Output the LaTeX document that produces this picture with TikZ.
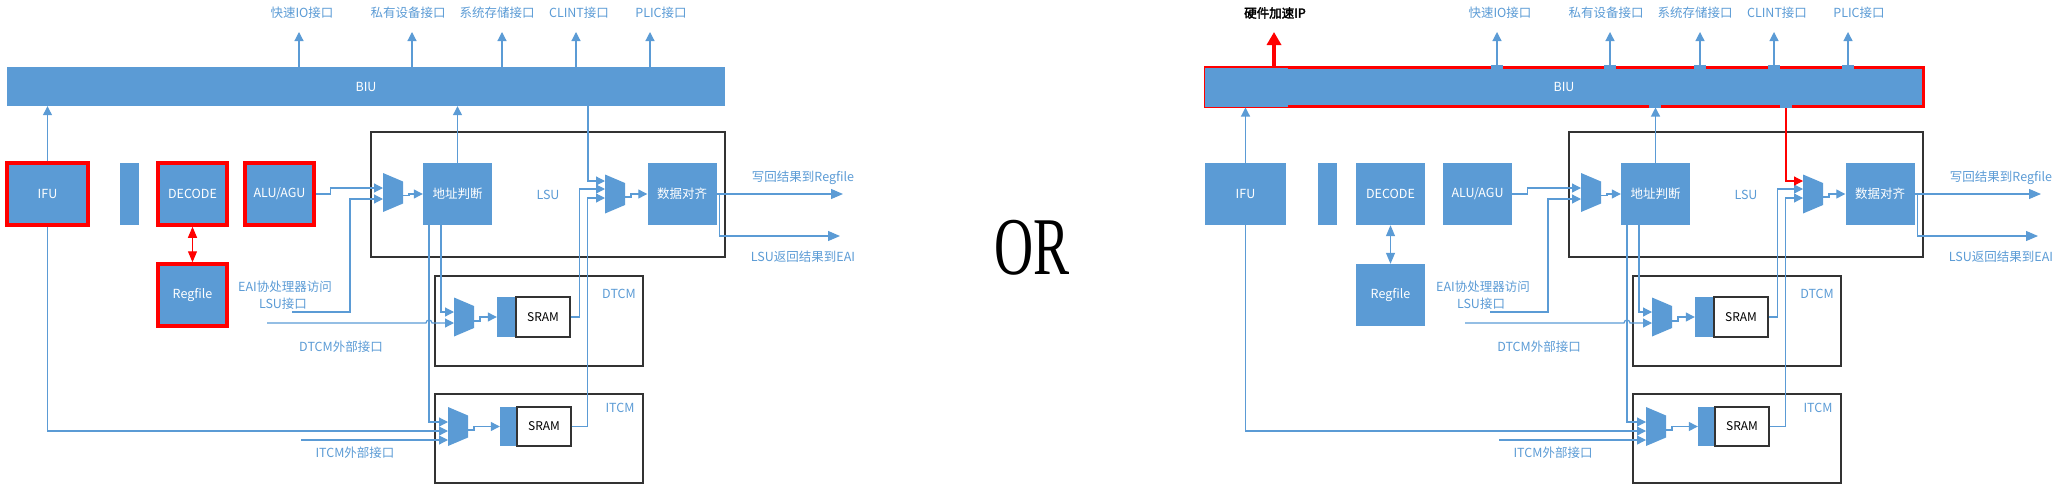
\documentclass[tikz,border=0pt]{standalone}
\usepackage{fontspec}
\setmainfont{Noto Sans CJK SC}
\newfontfamily\hwfont[FakeBold=2.5]{Noto Sans CJK SC}
\newfontfamily\orfont{Liberation Serif}
\usetikzlibrary{arrows.meta,calc}
\definecolor{ipblue}{RGB}{91,155,213}
\tikzset{
  unit/.style={fill=ipblue, text=white, inner sep=0pt, minimum width=69pt,
              minimum height=62pt, font=\fontsize{12.5}{14}\selectfont},
  cpubox/.style={unit},
  biubox/.style={unit, minimum width=718pt, minimum height=39pt},
  unitframe/.style={draw=black!80, line width=1.5pt, inner sep=0pt, text=ipblue,
              font=\fontsize{12.5}{14}\selectfont},
  sram/.style={draw=black!80, line width=1.2pt, fill=white, inner sep=0pt,
              minimum width=54pt, minimum height=40pt, font=\fontsize{12}{14}\selectfont},
  buf/.style={fill=ipblue, inner sep=0pt, minimum width=19pt, minimum height=40pt},
  muxpic/.pic={\fill[ipblue] (-10,-19.5) -- (10,-11) -- (10,11) -- (-10,19.5) -- cycle;},
  lbl/.style={text=ipblue, inner sep=0pt, font=\fontsize{12.5}{14}\selectfont},
  flow/.style={-{Triangle[length=9pt,width=9pt]}, ipblue, line width=1.2pt},
  outflow/.style={-{Triangle[length=12pt,width=10pt]}, ipblue, line width=1.2pt},
  busline/.style={flow},
  regarrow/.style={{Triangle[length=11pt,width=9pt]}-{Triangle[length=11pt,width=9pt]},
              ipblue, line width=1.2pt},
  hwflow/.style={-{Triangle[length=13pt,width=14pt]}, red, line width=4pt},
}
% one copy of the core: bus, pipeline units, LSU and the two TCMs
\newcommand\coreunits{%
  \node[biubox] (biu) at (366,86.5) {BIU};
  \foreach \px/\lx/\txt [count=\i] in {299/302/快速IO接口,412/408/私有设备接口,
      502/497/系统存储接口,576/579/CLINT接口,650/661/PLIC接口}{
    \coordinate (port\i) at (\px,32);
    \node[lbl] (portlbl\i) at (\lx,13) {\txt};
    \draw[flow] (biu.north -| port\i) -- (port\i);
  }
  \node[unitframe, minimum width=354pt, minimum height=125pt] (lsu) at (548,194.5) {LSU};
  \node[unitframe, minimum width=208pt, minimum height=90pt] (dtcm) at (539,321) {};
  \node[unitframe, minimum width=208pt, minimum height=89pt] (itcm) at (539,438.5) {};
  \node[lbl] (dtcmlbl) at (619,294) {DTCM};
  \node[lbl] (itcmlbl) at (620,408) {ITCM};
  \node[cpubox, minimum width=81pt] (ifu) at (47.5,194) {IFU};
  \node[unit, minimum width=19pt] (pipe) at (129.5,194) {};
  \node[cpubox] (dec) at (192.5,194) {DECODE};
  \node[cpubox] (alu) at (279.5,194) {ALU/AGU};
  \node[cpubox] (rf) at (192.5,295) {Regfile};
  \node[unit] (addr) at (457.5,194) {地址判断};
  \node[unit] (align) at (682,194) {数据对齐};
  \coordinate (m1) at (393,192.5);  \pic at (m1) {muxpic};
  \coordinate (m2) at (615,194);    \pic at (m2) {muxpic};
  \coordinate (dm) at (464,317);    \pic at (dm) {muxpic};
  \coordinate (im) at (458,426.5);  \pic at (im) {muxpic};
  \node[buf] (dbuf) at (506.5,317) {};
  \node[sram] (dsram) at (543,317) {SRAM};
  \node[buf, minimum width=17pt, minimum height=39pt] (ibuf) at (508.5,426.5) {};
  \node[sram, minimum height=39pt] (isram) at (544,426.5) {SRAM};
  % mux inputs
  \coordinate (m1a) at (383,188);  \coordinate (m1b) at (383,199);
  \coordinate (m2a) at (605,181);  \coordinate (m2b) at (605,189);
  \coordinate (m2c) at (605,198);
  \coordinate (dm1) at (454,312);  \coordinate (dm2) at (454,323);
  \coordinate (im1) at (448,422);  \coordinate (im2) at (448,431);
  \coordinate (im3) at (448,440);
  % outside ends
  \coordinate (lsuif) at (292,312);
  \coordinate (dext) at (267,323);
  \coordinate (iext) at (301,440);
  \coordinate (wb) at (843,194);
  \coordinate (eai) at (840,236);
  \node[lbl] (eailbl1) at (285,287) {EAI协处理器访问};
  \node[lbl] (eailbl2) at (283,304) {LSU接口};
  \node[lbl] (dextlbl) at (341,347) {DTCM外部接口};
  \node[lbl] (iextlbl) at (355,453) {ITCM外部接口};
  \node[lbl] (wblbl) at (803,178) {写回结果到Regfile};
  \node[lbl] (eaiout) at (803,257) {LSU返回结果到EAI};
  % connectors
  \draw[flow] (ifu.north) -- (ifu.north |- biu.south);
  \draw[flow] (addr.north) -- (addr.north |- biu.south);
  \draw[regarrow] (dec.south) -- (rf.north);
  \draw[flow] (alu.east) -- ++(15,0) |- (m1a);
  \draw[flow] (lsuif) -- ++(58,0) |- (m1b);
  \draw[flow] ([xshift=10pt,yshift=-3pt]m1) -- ++(6,0) |- (addr.west);
  \draw[flow] ([xshift=-16.5pt]addr.south) |- (dm1);
  \draw[flow] ([xshift=-28.5pt]addr.south) |- (im1);
  \draw[flow] (dext) -- ++(159,0) arc[start angle=180, end angle=0, radius=3pt] -- (dm2);
  \draw[flow] (ifu.south) |- (im2);
  \draw[flow] (iext) -- (im3);
  \draw[flow] ([xshift=10pt,yshift=-4pt]dm) -- ++(6,0) |- (dbuf.west);
  \draw[flow] ([xshift=10pt,yshift=-3.5pt]im) -- ++(6,0) |- (ibuf.west);
  \draw[flow] (dsram.east) -- ++(9,0) |- (m2b);
  \draw[flow] (isram.east) -- ++(16,0) |- (m2c);
  \draw[busline] ([xshift=222pt]biu.south) |- (m2a);
  \draw[flow] ([xshift=10pt,yshift=-3pt]m2) -- ++(6,0) |- (align.west);
  \draw[outflow] (align.east) -- (wb);
  \draw[outflow] ([xshift=3pt]align.east) |- (eai);
}

\begin{document}
\begin{tikzpicture}[x=1pt,y=-1pt]
  \useasboundingbox (0,0) rectangle (2061,485);
  % left: units marked in red
  \begin{scope}[name prefix=L-, cpubox/.style={unit, draw=red, line width=3.5pt},
      regarrow/.append style={red}]
    \coreunits
  \end{scope}
  \node[inner sep=0pt, font=\orfont\fontsize{82}{82}\selectfont] (or) at (1032,248)
    {\scalebox{0.66}[1]{OR}};
  % right: bus marked in red
  \begin{scope}[xshift=1198pt, name prefix=R-,
      biubox/.append style={draw=red, line width=3pt}, busline/.style={flow, red}]
    \coreunits
    \fill[ipblue] (7,68) rectangle (90,107);
    \foreach \tx in {299,412,502,576,650}
      \fill[ipblue] (\tx-6,65) rectangle (\tx+6,69);
    \foreach \tx in {457,588}
      \fill[ipblue] (\tx-6,104) rectangle (\tx+6,108);
    \coordinate (hwport) at (76,32);
    \node[inner sep=0pt, font=\hwfont\fontsize{12.5}{14}\selectfont] (hwip) at (77,13) {硬件加速IP};
    \draw[hwflow] (biu.north -| hwport) -- (hwport);
  \end{scope}
\end{tikzpicture}
\end{document}
